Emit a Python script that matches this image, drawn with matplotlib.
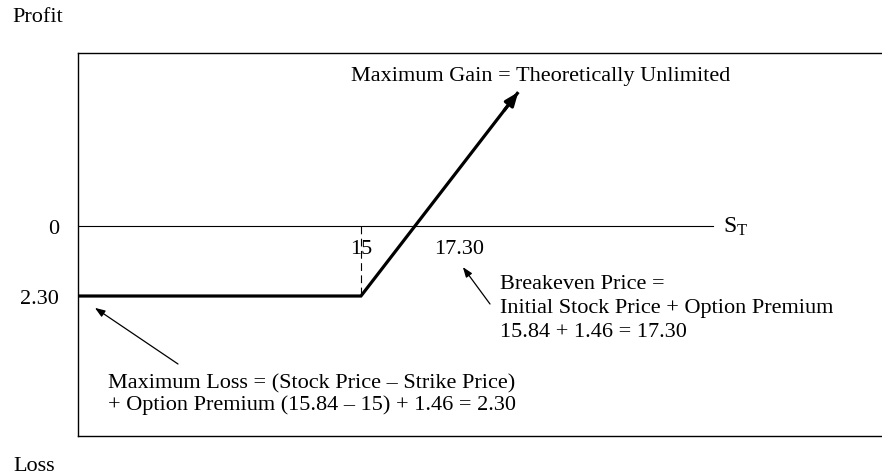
import matplotlib
matplotlib.use('Agg')
import matplotlib.pyplot as plt

# values
strike = 15.0
breakeven = 17.30
max_loss = 2.30

# payoff line: stock price at expiry vs profit
payoff_s = [2.95, 15.0, 21.7]
payoff_profit = [-2.30, -2.30, 4.40]
axis_end = 30.0

ytick_vals = [0, -2.30]
ytick_labels = ['0', '2.30']
xmark_vals = [strike, 19.2]
xmark_labels = ['15', '17.30']

gain_label = 'Maximum Gain = Theoretically Unlimited'
breakeven_lines = ['Breakeven Price =',
                   'Initial Stock Price + Option Premium',
                   '15.84 + 1.46 = 17.30']
loss_lines = ['Maximum Loss = (Stock Price \u2013 Strike Price)',
              '+ Option Premium (15.84 \u2013 15) + 1.46 = 2.30']

plt.rcParams['font.family'] = ['Liberation Serif', 'DejaVu Serif']
plt.rcParams['mathtext.fontset'] = 'custom'
plt.rcParams['mathtext.rm'] = 'Liberation Serif'
plt.rcParams['mathtext.it'] = 'Liberation Serif'
fs = 16

W, H = 882, 477
fig = plt.figure(figsize=(W / 100, H / 100), dpi=100)
# box from px x=78, y=54 to y=437, running off the right edge
ax = fig.add_axes([78 / W, (H - 437) / H, (905 - 78) / W, (437 - 54) / H])
ax.set_xlim(2.95, 15 + (905 - 361) / 23.48)
ax.set_ylim(-6.90, 5.685)
for sp in ax.spines.values():
    sp.set_linewidth(1.0)
ax.spines['right'].set_visible(False)

ax.set_xticks([])
ax.set_yticks(ytick_vals, ytick_labels)
ax.tick_params(axis='y', length=0, pad=13.5, labelsize=fs)

# horizontal S_T axis
ax.plot([payoff_s[0], axis_end], [0, 0], color='black', lw=0.8)
ax.text(axis_end + 0.4, 0, r'$\mathrm{S}_\mathrm{T}$', fontsize=fs + 1,
        ha='left', va='center')

# strike marker
ax.plot([strike, strike], [0, -max_loss], color='black', lw=0.8,
        linestyle=(0, (7, 4)))

# payoff line with arrow at the end
ax.plot(payoff_s, payoff_profit, color='black', lw=2.3,
        solid_joinstyle='miter', solid_capstyle='butt')
ax.annotate('', xy=(payoff_s[-1], payoff_profit[-1]),
            xytext=(payoff_s[-1] - 0.6, payoff_profit[-1] - 0.6),
            arrowprops=dict(arrowstyle='-|>,head_length=0.8,head_width=0.32',
                            color='black', lw=2.3, shrinkA=0, shrinkB=0))

for xv, lab in zip(xmark_vals, xmark_labels):
    ax.text(xv, -0.75, lab, fontsize=fs, ha='center', va='center')

# text blocks (figure pixel positions, origin top-left)
def fpx(x, y):
    return (x, H - y)

ax.annotate(gain_label, xy=fpx(541, 77), xycoords='figure pixels',
            fontsize=fs, ha='center', va='center')

for i, line in enumerate(breakeven_lines):
    ax.annotate(line, xy=fpx(500, 285 + 24 * i), xycoords='figure pixels',
                fontsize=fs, ha='left', va='center')
for i, line in enumerate(loss_lines):
    ax.annotate(line, xy=fpx(108, 384 + 21 * i), xycoords='figure pixels',
                fontsize=fs, ha='left', va='center')

# pointer arrows
thin = dict(arrowstyle='-|>,head_length=0.6,head_width=0.22', color='black',
            lw=0.9, shrinkA=0, shrinkB=0)
ax.annotate('', xy=(19.34, -1.35), xycoords='data',
            xytext=fpx(490, 305), textcoords='figure pixels', arrowprops=thin)
ax.annotate('', xy=(3.67, -2.69), xycoords='data',
            xytext=fpx(178, 365), textcoords='figure pixels', arrowprops=thin)

fig.text(12 / W, (H - 18) / H, 'Profit', fontsize=fs, ha='left', va='center')
fig.text(13 / W, (H - 467) / H, 'Loss', fontsize=fs, ha='left', va='center')

fig.savefig('out.png', dpi=100)
